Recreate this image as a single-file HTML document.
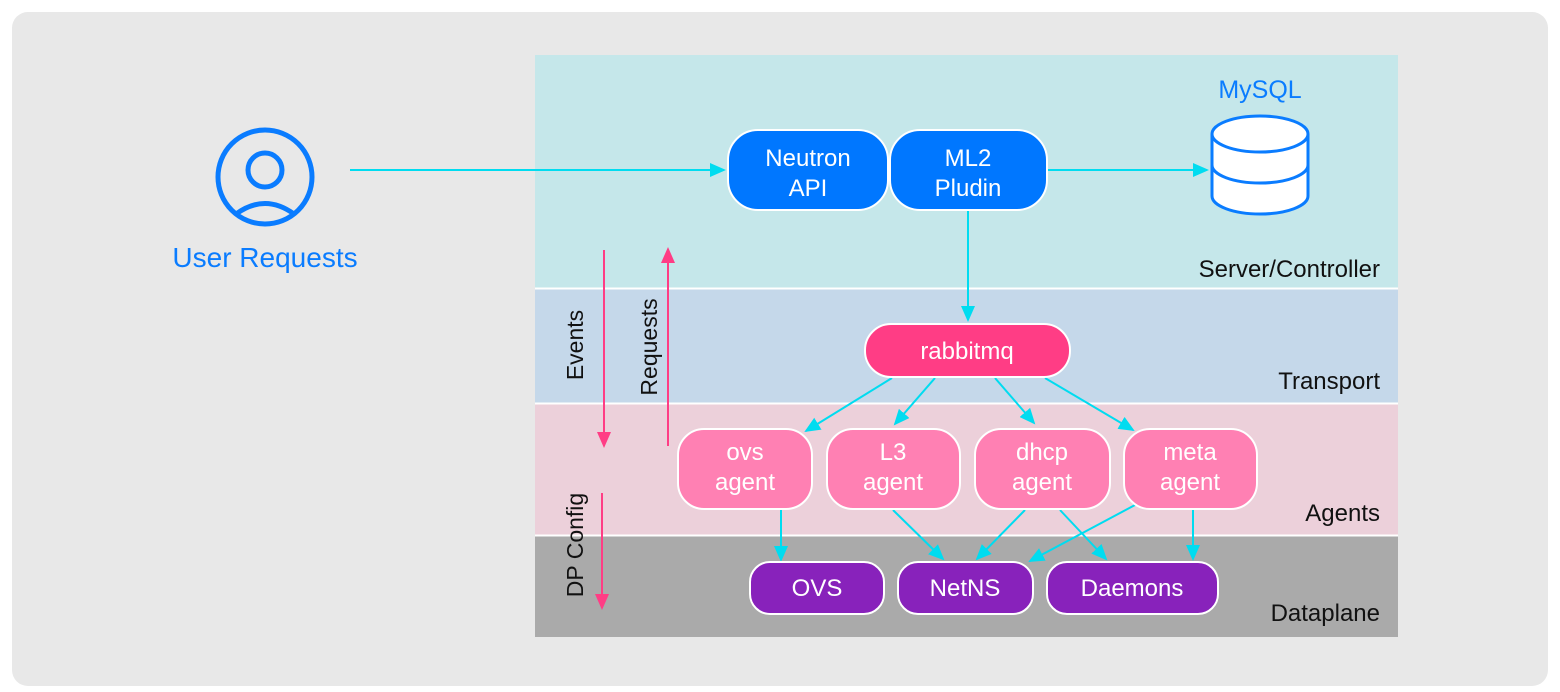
<!DOCTYPE html>
<html><head><meta charset="utf-8"><style>
html,body{margin:0;padding:0;background:#fff}
svg{display:block}
text{font-family:"Liberation Sans",sans-serif}
</style></head><body>
<svg width="1560" height="692" viewBox="0 0 1560 692">
<defs>
<marker id="c" markerWidth="16" markerHeight="14" refX="14" refY="7" orient="auto" markerUnits="userSpaceOnUse"><path d="M0,0 L16,7 L0,14 z" fill="#00dcf0"/></marker>
<marker id="p" markerWidth="16" markerHeight="14" refX="14" refY="7" orient="auto" markerUnits="userSpaceOnUse"><path d="M0,0 L16,7 L0,14 z" fill="#ff3d85"/></marker>
</defs>
<rect x="12" y="12" width="1536" height="674" rx="16" fill="#e8e8e8"/>
<rect x="535" y="55" width="863" height="233" fill="#c5e7ea"/>
<rect x="535" y="289" width="863" height="114" fill="#c5d8ea"/>
<rect x="535" y="404" width="863" height="131" fill="#ecd0da"/>
<rect x="535" y="536" width="863" height="101" fill="#aaaaaa"/>
<g fill="none" stroke="#fff" stroke-width="2"><line x1="535" y1="288.5" x2="1398" y2="288.5"/><line x1="535" y1="403.5" x2="1398" y2="403.5"/><line x1="535" y1="535.5" x2="1398" y2="535.5"/></g>

<g fill="none" stroke="#0a7cff" stroke-width="5"><circle cx="265" cy="177" r="47"/><circle cx="265" cy="170" r="17"/><path d="M236,214 Q265,193 294,214"/></g>
<text x="265" y="267" font-size="28" fill="#0a7cff" text-anchor="middle">User Requests</text>

<g stroke="#00dcf0" stroke-width="2" fill="none">
<line x1="350" y1="170" x2="724" y2="170" marker-end="url(#c)"/>
<line x1="1047" y1="170" x2="1207" y2="170" marker-end="url(#c)"/>
<line x1="968" y1="210" x2="968" y2="320" marker-end="url(#c)"/>
<line x1="892" y1="378" x2="806" y2="431" marker-end="url(#c)"/>
<line x1="935" y1="378" x2="895" y2="424" marker-end="url(#c)"/>
<line x1="995" y1="378" x2="1034" y2="423" marker-end="url(#c)"/>
<line x1="1045" y1="378" x2="1133" y2="430" marker-end="url(#c)"/>
<line x1="781" y1="510" x2="781" y2="560" marker-end="url(#c)"/>
<line x1="893" y1="510" x2="943" y2="559" marker-end="url(#c)"/>
<line x1="1025" y1="510" x2="977" y2="559" marker-end="url(#c)"/>
<line x1="1060" y1="510" x2="1106" y2="559" marker-end="url(#c)"/>
<line x1="1135" y1="505" x2="1030" y2="561" marker-end="url(#c)"/>
<line x1="1193" y1="510" x2="1193" y2="559" marker-end="url(#c)"/>
</g>

<g stroke="#ff3d85" stroke-width="2" fill="none">
<line x1="604" y1="250" x2="604" y2="446" marker-end="url(#p)"/>
<line x1="668" y1="446" x2="668" y2="249" marker-end="url(#p)"/>
<line x1="602" y1="493" x2="602" y2="608" marker-end="url(#p)"/>
</g>
<text transform="translate(583,345) rotate(-90)" font-size="23" text-anchor="middle" fill="#111">Events</text>
<text transform="translate(657,347) rotate(-90)" font-size="23" text-anchor="middle" fill="#111">Requests</text>
<text transform="translate(583,545) rotate(-90)" font-size="23" text-anchor="middle" fill="#111">DP Config</text>

<text x="1260" y="98" font-size="25" fill="#0a7cff" text-anchor="middle">MySQL</text>
<g stroke="#0a7cff" stroke-width="3" fill="#fff">
<path d="M1212,134 L1212,196 A48,18 0 0 0 1308,196 L1308,134"/>
<path d="M1212,165 A48,18 0 0 0 1308,165" fill="none"/>
<ellipse cx="1260" cy="134" rx="48" ry="18"/>
</g>

<g stroke="#fff" stroke-width="2">
<rect x="728" y="130" width="160" height="80" rx="30" fill="#0077ff"/>
<rect x="890" y="130" width="157" height="80" rx="30" fill="#0077ff"/>
<rect x="865" y="324" width="205" height="53" rx="26" fill="#ff3d85"/>
<rect x="678" y="429" width="134" height="80" rx="26" fill="#ff80b3"/>
<rect x="827" y="429" width="133" height="80" rx="26" fill="#ff80b3"/>
<rect x="975" y="429" width="135" height="80" rx="26" fill="#ff80b3"/>
<rect x="1124" y="429" width="133" height="80" rx="26" fill="#ff80b3"/>
<rect x="750" y="562" width="134" height="52" rx="20" fill="#8822bb"/>
<rect x="898" y="562" width="135" height="52" rx="20" fill="#8822bb"/>
<rect x="1047" y="562" width="171" height="52" rx="20" fill="#8822bb"/>
</g>
<g fill="#fff" font-size="24" text-anchor="middle">
<text x="808" y="166">Neutron</text><text x="808" y="196">API</text>
<text x="968" y="166">ML2</text><text x="968" y="196">Pludin</text>
<text x="967" y="359">rabbitmq</text>
<text x="745" y="460">ovs</text><text x="745" y="490">agent</text>
<text x="893" y="460">L3</text><text x="893" y="490">agent</text>
<text x="1042" y="460">dhcp</text><text x="1042" y="490">agent</text>
<text x="1190" y="460">meta</text><text x="1190" y="490">agent</text>
<text x="817" y="596">OVS</text>
<text x="965" y="596">NetNS</text>
<text x="1132" y="596">Daemons</text>
</g>
<g fill="#111" font-size="24" text-anchor="end">
<text x="1380" y="277">Server/Controller</text>
<text x="1380" y="389">Transport</text>
<text x="1380" y="521">Agents</text>
<text x="1380" y="621">Dataplane</text>
</g>
</svg>
</body></html>
